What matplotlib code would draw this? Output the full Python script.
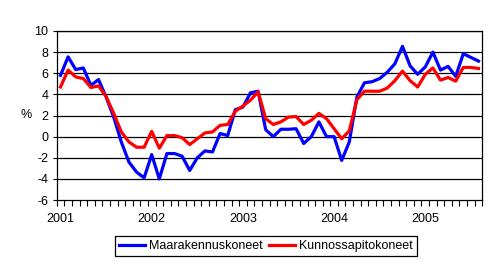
import matplotlib.pyplot as plt
import numpy

plt.rcParams["font.family"] = ["Liberation Sans", "DejaVu Sans"]
plt.rcParams["axes.unicode_minus"] = False

# Monthly change, %, Jan 2001 - Aug 2005
years = [2001, 2002, 2003, 2004, 2005]
maarakennuskoneet = [
    5.8, 7.55, 6.35, 6.5, 4.85, 5.4, 3.75, 1.85, -0.5, -2.4, -3.35, -3.9,
    -1.7, -4.0, -1.6, -1.6, -1.85, -3.2, -2.0, -1.35, -1.45, 0.3, 0.1, 2.55,
    2.8, 4.15, 4.3, 0.65, 0.0, 0.7, 0.7, 0.75, -0.65, 0.0, 1.4, 0.0,
    0.0, -2.25, -0.5, 3.75, 5.1, 5.2, 5.5, 6.1, 6.9, 8.55, 6.7, 5.9,
    6.6, 8.0, 6.3, 6.65, 5.7, 7.85, 7.5, 7.15,
]
kunnossapitokoneet = [
    4.7, 6.3, 5.65, 5.5, 4.65, 4.8, 3.8, 2.2, 0.45, -0.5, -1.0, -1.0,
    0.5, -1.1, 0.1, 0.1, -0.1, -0.75, -0.2, 0.35, 0.45, 1.07, 1.15, 2.4,
    2.9, 3.45, 4.25, 1.7, 1.15, 1.4, 1.85, 1.9, 1.15, 1.55, 2.2, 1.7,
    0.75, -0.2, 0.55, 3.5, 4.3, 4.3, 4.3, 4.6, 5.3, 6.2, 5.3, 4.7,
    5.9, 6.5, 5.35, 5.6, 5.25, 6.55, 6.55, 6.45,
]

x = numpy.arange(len(maarakennuskoneet))

fig = plt.figure(figsize=(4.94, 2.66), dpi=100)
ax = fig.add_axes([0.1148, 0.248, 0.8615, 0.6355])

for yv in range(-4, 11, 2):
    ax.axhline(yv, color="black", linewidth=0.9, zorder=1)

ax.plot(x, maarakennuskoneet, color="#0000ff", linewidth=2.3,
        label="Maarakennuskoneet", zorder=3)
ax.plot(x, kunnossapitokoneet, color="#ff0000", linewidth=2.3,
        label="Kunnossapitokoneet", zorder=3)

ax.set_xlim(-0.5, len(x) - 0.5)
ax.set_ylim(-6, 10)
ax.set_yticks(range(-6, 11, 2))
ax.tick_params(axis="y", labelsize=9, length=3, width=0.8, pad=3)

ax.set_xticks([12 * k for k in range(len(years))])
ax.set_xticklabels([str(y) for y in years])
ax.set_xticks(numpy.arange(-0.5, len(x), 1.0), minor=True)
ax.tick_params(axis="x", which="major", labelsize=9, length=0, pad=9)
ax.tick_params(axis="x", which="minor", length=4, width=0.8)

for side in ["left", "bottom", "right", "top"]:
    ax.spines[side].set_linewidth(0.9)
    ax.spines[side].set_color("black")

fig.text(0.053, 0.568, "%", fontsize=9, ha="center", va="center")

leg = fig.legend(
    loc="center",
    bbox_to_anchor=(0.5385, 0.075),
    ncol=2,
    fontsize=9,
    handlelength=2.1,
    handletextpad=0.3,
    columnspacing=0.5,
    borderpad=0.3,
    fancybox=False,
    framealpha=1,
)
leg.get_frame().set_edgecolor("black")
leg.get_frame().set_linewidth(0.9)

plt.savefig("out.png", dpi=100)
